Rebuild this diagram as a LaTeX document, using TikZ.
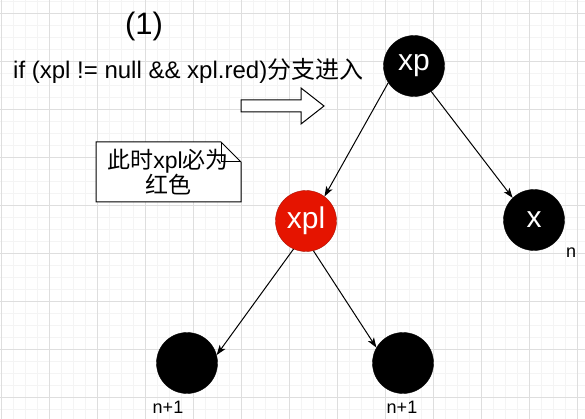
\documentclass[tikz,border=0pt]{standalone}
\usepackage{fontspec}
\setmainfont{Liberation Sans}
\newfontfamily\cjk{Noto Sans CJK SC}
\usetikzlibrary{arrows.meta}
\definecolor{nodered}{RGB}{229,20,0}
\definecolor{gridlo}{RGB}{244,244,244}
\definecolor{gridhi}{RGB}{222,222,222}
\tikzset{
	treenode/.style={circle,draw=black,fill=black,text=white,minimum size=61pt,inner sep=0pt,font=\fontsize{30}{30}\selectfont},
	rednode/.style={treenode,draw=nodered!75!black,fill=nodered},
	treeedge/.style={-{Stealth[length=10pt,width=7pt,inset=2.5pt]},line width=1pt},
	levellabel/.style={anchor=base,font=\fontsize{18}{18}\selectfont},
}

\begin{document}
\begin{tikzpicture}[x=1pt,y=-1pt]
	\useasboundingbox (0,0) rectangle (585,419);
	\fill[white] (0,0) rectangle (585,419);
	\foreach \i in {1,13,...,589} \draw[gridlo,line width=0.8pt] (\i,0) -- (\i,419);
	\foreach \j in {1,13,...,419} \draw[gridlo,line width=0.8pt] (0,\j) -- (585,\j);
	\foreach \i in {1,49,...,589} \draw[gridhi,line width=0.8pt] (\i,0) -- (\i,419);
	\foreach \j in {13,61,...,419} \draw[gridhi,line width=0.8pt] (0,\j) -- (585,\j);
	% captions
	\node[anchor=base,font=\fontsize{31}{31}\selectfont] at (144,35) (title) {(1)};
	\node[anchor=base west,inner sep=0pt,font=\fontsize{24}{24}\selectfont] at (13,79) (cond) {if (xpl != null \&\& xpl.red){\cjk 分支进入}};
	% hollow arrow
	\draw[line width=1pt,fill=white] (241,100) -- (301,100) -- (301,88) -- (324,106) -- (301,124) -- (301,112) -- (241,112) -- cycle;
	% note
	\draw[line width=1pt,fill=white] (96,142) -- (221,142) -- (241,162) -- (241,202) -- (96,202) -- cycle;
	\draw[line width=1pt] (221,142) -- (221,162) -- (241,162);
	\node[align=center,font=\fontsize{23}{25}\selectfont] at (168,172) (note) {{\cjk 此时}xpl{\cjk 必为}\\{\cjk 红色}};
	% tree
	\node[treenode] at (414,66) (xp) {xp};
	\node[rednode] at (306,221) (xpl) {xpl};
	\node[treenode] at (534,220) (x) {x};
	\node[treenode] at (187,363) (left) {};
	\node[treenode] at (403,363) (right) {};
	\node[levellabel] at (571,257) (nx) {n};
	\node[levellabel] at (168,413) (nleft) {n+1};
	\node[levellabel] at (402,413) (nright) {n+1};
	\draw[treeedge] (xp.213) -- (xpl.53);
	\draw[treeedge] (xp.-56) -- (x.134);
	\draw[treeedge] (xpl.246) -- (left.15);
	\draw[treeedge] (xpl.284) -- (right.150);
\end{tikzpicture}
\end{document}
